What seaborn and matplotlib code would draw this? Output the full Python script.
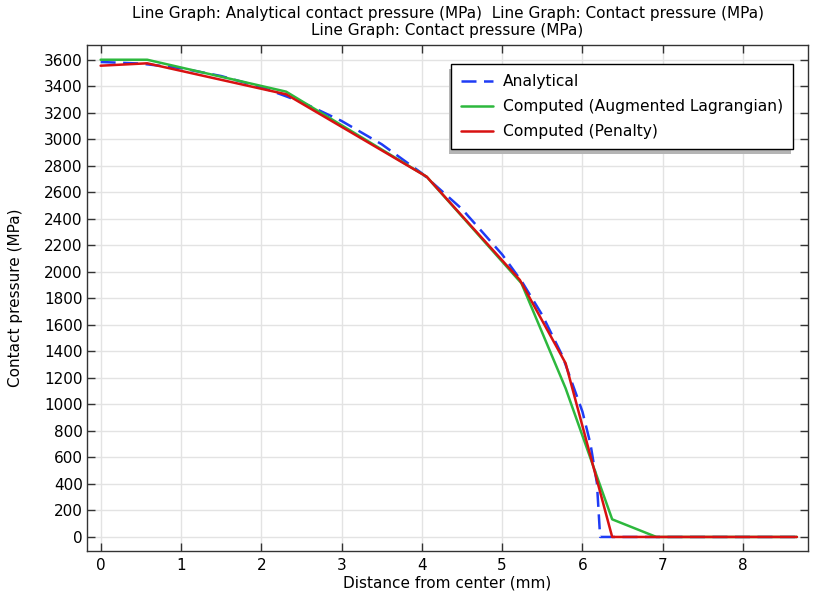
"""Contact pressure along the contact surface: analytical vs computed."""

import matplotlib
matplotlib.use("Agg")
import matplotlib.pyplot as plt
import numpy as np
import pandas as pd
import seaborn as sns

# Analytical (Hertz) contact pressure
x_analytical = [0, 0.5, 1.0, 1.5, 2.0, 2.5, 3.0, 3.5, 4.0, 4.5, 5.0, 5.25,
                5.5, 5.75, 6.0, 6.1, 6.18, 6.22, 6.22, 8.67]
p_analytical = [3585, 3573, 3538, 3479, 3395, 3283, 3140, 2964, 2745, 2475,
                2132, 1923, 1674, 1367, 945, 701, 406, 0, 0, 0]

# Computed, augmented Lagrangian
x_auglag = [0, 0.58, 2.31, 4.06, 5.24, 5.79, 6.37, 6.92, 8.67]
p_auglag = [3602, 3602, 3361, 2719, 1915, 1122, 133, 0, 0]

# Computed, penalty
x_penalty = [0, 0.58, 2.31, 4.06, 5.22, 5.79, 6.37, 8.67]
p_penalty = [3557, 3575, 3341, 2719, 1940, 1311, 0, 0]

y_ticks = list(range(0, 3601, 200))
x_ticks = list(range(0, 9))

sns.set_style("whitegrid")
plt.rcParams["font.family"] = ["DejaVu Sans"]
plt.rcParams["text.color"] = "black"
plt.rcParams["axes.labelcolor"] = "black"

fig = plt.figure(figsize=(8.13, 5.94), dpi=100)
ax = fig.add_axes([0.107, 0.0724, 0.887, 0.8518])

df_a = pd.DataFrame({"x": x_analytical, "p": p_analytical})
df_g = pd.DataFrame({"x": x_auglag, "p": p_auglag})
df_r = pd.DataFrame({"x": x_penalty, "p": p_penalty})

sns.lineplot(data=df_a, x="x", y="p", sort=False, ax=ax, color="#1f3cf5",
             linewidth=1.8, label="Analytical")
ax.lines[-1].set_dashes((6, 3))
sns.lineplot(data=df_g, x="x", y="p", sort=False, ax=ax, color="#2db83d",
             linewidth=1.8, label="Computed (Augmented Lagrangian)")
sns.lineplot(data=df_r, x="x", y="p", sort=False, ax=ax, color="#d81111",
             linewidth=1.8, label="Computed (Penalty)")

ax.set_xlim(-0.17, 8.81)
ax.set_ylim(-106, 3713)
ax.set_xticks(x_ticks)
ax.set_yticks(y_ticks)
ax.grid(True, color="#e3e3e3", linewidth=1.0)

for side in ["left", "right", "top", "bottom"]:
    ax.spines[side].set_visible(True)
    ax.spines[side].set_color("#333333")
    ax.spines[side].set_linewidth(1.0)

ax.tick_params(axis="both", which="both", direction="in", length=6,
               width=1.0, color="#333333", labelsize=11, labelcolor="black",
               top=True, right=True, left=True, bottom=True)
ax.tick_params(axis="x", pad=5)
ax.tick_params(axis="y", pad=3)

ax.set_xlabel("Distance from center (mm)", fontsize=11, labelpad=2)
ax.set_ylabel("Contact pressure (MPa)", fontsize=11, labelpad=15)
ax.set_title("Line Graph: Analytical contact pressure (MPa)  Line Graph: Contact pressure (MPa)\n"
             "Line Graph: Contact pressure (MPa)", fontsize=11, pad=7)

leg = ax.legend(loc="upper right", bbox_to_anchor=(0.979, 0.9625),
                fontsize=11.2, frameon=True, fancybox=False,
                shadow={"ox": -1.5, "oy": -3.5, "facecolor": "#b5b5b5",
                        "edgecolor": "none", "alpha": 1},
                framealpha=1, edgecolor="black", borderaxespad=0,
                handlelength=2.1, handletextpad=0.6, borderpad=0.65,
                labelspacing=0.65)
leg.get_frame().set_linewidth(1.0)

fig.savefig("out.png", dpi=100)
